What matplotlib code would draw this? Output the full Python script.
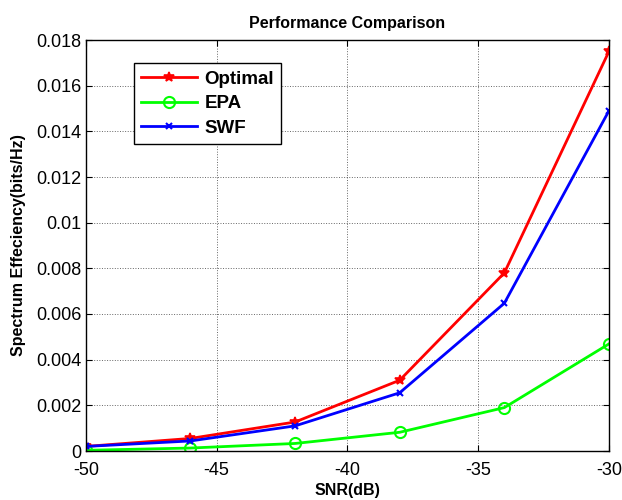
import matplotlib
matplotlib.use("Agg")
import matplotlib.pyplot as plt

plt.rcParams['font.family'] = ['Liberation Sans', 'DejaVu Sans']

snr = [-50, -46, -42, -38, -34, -30]
optimal = [0.0002, 0.00055, 0.00127, 0.0031, 0.0078, 0.0175]
epa = [0.00003, 0.00013, 0.00033, 0.00082, 0.0019, 0.00469]
swf = [0.0002, 0.00044, 0.0011, 0.00255, 0.00647, 0.0149]

xticks = [-50, -45, -40, -35, -30]
yticks = [0, 0.002, 0.004, 0.006, 0.008, 0.01, 0.012, 0.014, 0.016, 0.018]
ytick_labels = ['0', '0.002', '0.004', '0.006', '0.008', '0.01', '0.012', '0.014', '0.016', '0.018']

fig = plt.figure(figsize=(6.22, 5.0), dpi=100)
ax = fig.add_axes([0.138, 0.098, 0.841, 0.822])

ax.plot(snr, optimal, color='#ff0000', lw=2, marker='*', ms=7, mew=1.2, label='Optimal')
ax.plot(snr, epa, color='#00ff00', lw=2, marker='o', ms=8, mfc='none', mew=1.5, label='EPA')
ax.plot(snr, swf, color='#0000ff', lw=2, marker='x', ms=5, mew=1.5, label='SWF')

ax.set_xlim(-50, -30)
ax.set_ylim(0, 0.018)
ax.set_xticks(xticks)
ax.set_xticklabels([str(t) for t in xticks])
ax.set_yticks(yticks)
ax.set_yticklabels(ytick_labels)
ax.tick_params(direction='in', top=True, right=True, labelsize=13, length=4, width=0.8)
ax.tick_params(axis='x', pad=8)
ax.tick_params(axis='y', pad=3)
ax.grid(True, color='black', linestyle=':', linewidth=0.7, alpha=0.6)
for s in ax.spines.values():
    s.set_linewidth(1.0)

ax.set_title('Performance Comparison', fontsize=11.5, fontweight='bold', pad=9)
ax.set_xlabel('SNR(dB)', fontsize=11.5, fontweight='bold', labelpad=3)
ax.set_ylabel('Spectrum Effeciency(bits/Hz)', fontsize=11.5, fontweight='bold', labelpad=7.5)

leg = ax.legend(loc='upper left', bbox_to_anchor=(0.092, 0.944), borderaxespad=0,
                prop={'weight': 'bold', 'size': 13.5},
                frameon=True, fancybox=False, edgecolor='black', framealpha=1,
                handlelength=2.95, handletextpad=0.4, borderpad=0.4, labelspacing=0.4)
leg.get_frame().set_linewidth(1.0)

fig.savefig('out.png', dpi=100)
